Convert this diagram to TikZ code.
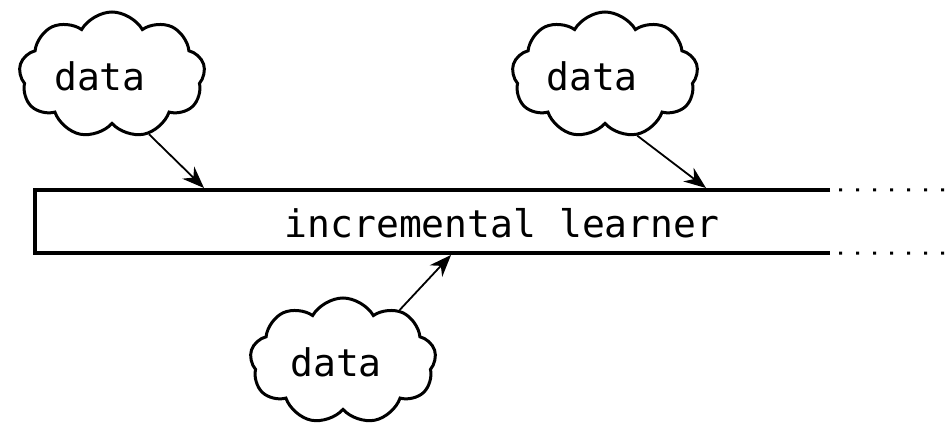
\documentclass[tikz,border=0pt]{standalone}
\usepackage{fontspec}
\setmonofont{DejaVu Sans Mono}
\usetikzlibrary{shapes.symbols,arrows.meta}
\begin{document}
\begin{tikzpicture}[x=1pt,y=-1pt,
  datacloud/.style={cloud, cloud puffs=9, cloud puff arc=120, aspect=1.5, draw, line width=3pt,
    minimum width=186pt, minimum height=126pt, inner sep=0pt},
  lbl/.style={inner sep=0pt, font=\ttfamily\fontsize{38}{40}\selectfont},
  feed/.style={line width=1.8pt, -{Stealth[length=22pt,width=17pt]}},
  edge/.style={line width=3.8pt},
  dots/.style={line width=3pt, dash pattern=on 3pt off 14pt}]
\useasboundingbox (0,0) rectangle (950,433);
\node[datacloud] (c1) at (112,75) {};
\node[datacloud] (c2) at (605,75) {};
\node[datacloud] (c3) at (343,361) {};
\node[lbl] (d1) at (100,76) {data};
\node[lbl] (d2) at (592,76) {data};
\node[lbl] (d3) at (336,362) {data};
\node[minimum width=795pt, minimum height=63pt, inner sep=0pt] (box) at (432.5,221.5) {};
\node[lbl] (lt) at (502,223) {incremental learner};
\draw[edge] (box.north east) -- (box.north west) -- (box.south west) -- (box.south east);
\coordinate (ne) at ([xshift=9pt]box.north east);
\coordinate (se) at ([xshift=9pt]box.south east);
\coordinate (neend) at (950,190);
\coordinate (seend) at (950,253);
\draw[dots] (ne) -- (neend);
\draw[dots] (se) -- (seend);
\coordinate (t1) at (204,188);
\coordinate (t2) at (706,188);
\coordinate (t3) at (451,255);
\draw[feed] (c1.-58) -- (t1);
\draw[feed] (c2.-62) -- (t2);
\draw[feed] (c3.42) -- (t3);
\end{tikzpicture}
\end{document}
